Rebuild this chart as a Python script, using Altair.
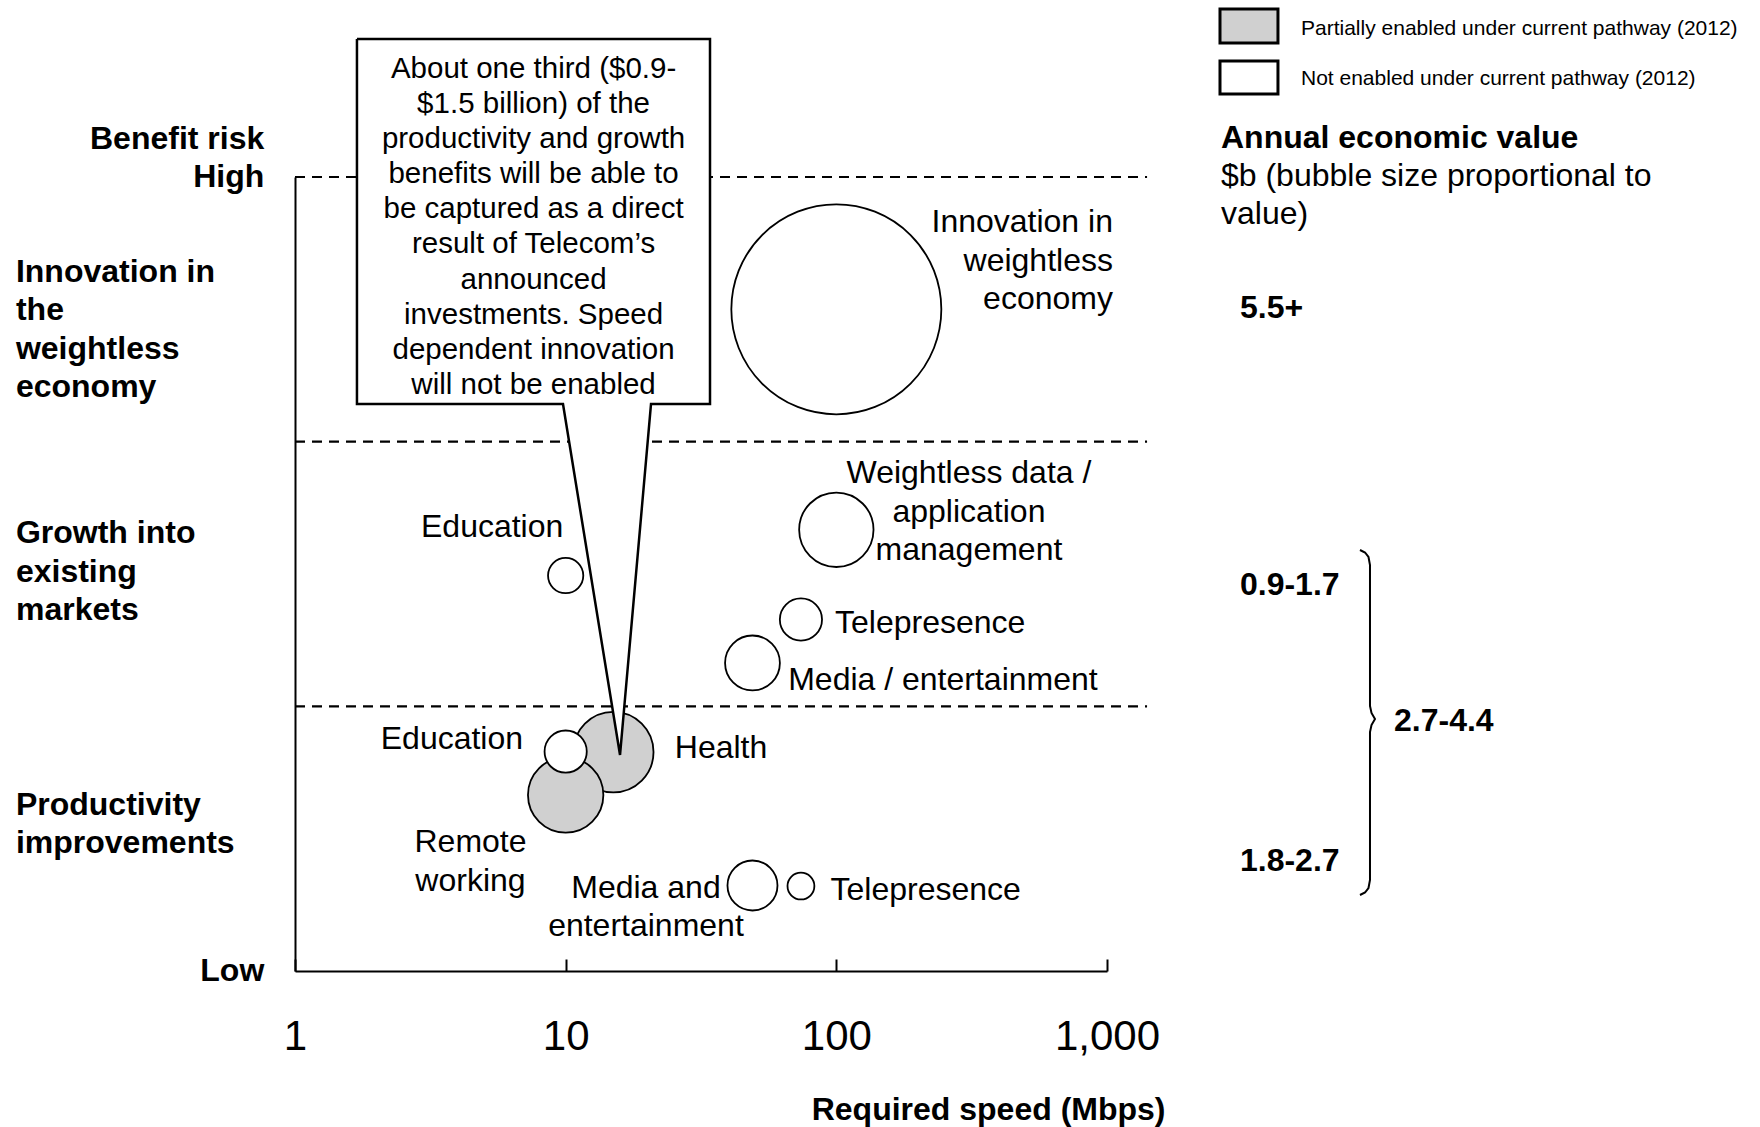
import altair as alt
import pandas as pd

FONT = "Liberation Sans"

# ---------------- data ----------------
status_partial = "Partially enabled under current pathway (2012)"
status_not = "Not enabled under current pathway (2012)"

bubble_name = ["Innovation in weightless economy", "Weightless data / application management",
               "Education (growth)", "Telepresence (growth)", "Media / entertainment",
               "Health", "Remote working", "Education (productivity)",
               "Media and entertainment", "Telepresence (productivity)"]
bubble_speed = [100, 100, 10, 74, 49, 15, 10, 10, 49, 74]          # Mbps
bubble_risk = [2.50, 1.667, 1.494, 1.328, 1.164, 0.827, 0.665, 0.829, 0.323, 0.321]
bubble_value = [5.5, 0.69, 0.155, 0.222, 0.375, 0.806, 0.709, 0.222, 0.312, 0.090]  # $b
bubble_status = [status_not, status_not, status_not, status_not, status_not,
                 status_partial, status_partial, status_not, status_not, status_not]

band_edges = [1, 2, 3]
tick_values = [1, 10, 100, 1000]

# bubble labels (anchor in data units: speed, risk)
lab_text = ["Telepresence", "Media / entertainment", "Health", "Telepresence",
            "Weightless data /\napplication\nmanagement", "Education", "Remote\nworking",
            "Media and\nentertainment",
            "Innovation in\nweightless\neconomy", "Education"]
lab_speed = [98.9, 66.4, 25.3, 95.2, 309, 5.35, 4.45, 19.8, 1052, 6.96]
lab_risk = [1.3707, 1.1546, 0.8996, 0.362, 1.9375, 1.7334, 0.544, 0.3706, 2.886, 0.9344]
lab_align = ["left", "left", "left", "left", "center", "center", "center", "center", "right", "right"]

callout_text = ["About one third ($0.9-\n$1.5 billion) of the\nproductivity and growth\n"
                "benefits will be able to\nbe captured as a direct\nresult of Telecom\u2019s\n"
                "announced\ninvestments. Speed\ndependent innovation\nwill not be enabled"]
callout_speed = [7.61]
callout_risk = [3.4617]

callout_box_speed = [1.694, 34.14]
callout_box_risk = [2.1423, 3.5213]
pointer_speed = [9.775, 15.88, 20.67]
pointer_risk = [2.1423, 0.8161, 2.1423]
outline_speed = [1.694, 34.14, 34.14, 20.67, 15.88, 9.775, 1.694, 1.694]
outline_risk = [3.5213, 3.5213, 2.1423, 2.1423, 0.8161, 2.1423, 2.1423, 3.5213]

cat_text = ["Innovation in\nthe\nweightless\neconomy", "Growth into\nexisting\nmarkets",
            "Productivity\nimprovements"]
cat_speed = [0.0931, 0.0931, 0.0931]
cat_risk = [2.6988, 1.7108, 0.6846]

risk_text = ["Benefit risk\nHigh", "Low"]
risk_speed = [0.77, 0.77]
risk_risk = [3.1994, 0.0567]

value_text = ["Annual economic value", "5.5+", "0.9-1.7", "1.8-2.7", "2.7-4.4"]
value_speed = [2637, 3099, 3099, 3099, 11490]
value_risk = [3.203, 2.563, 1.5158, 0.4723, 1.0024]

sub_text = ["$b (bubble size proportional to\nvalue)"]
sub_speed = [2637]
sub_risk = [3.0596]

legend_status = [status_partial, status_not]
legend_box_speed = [2615, 4282]
legend_box_risk_lo = [3.5062, 3.3135]
legend_box_risk_hi = [3.6346, 3.4382]
legend_text_speed = [5209, 5209]
legend_text_risk = [3.6012, 3.4121]

brace_speed = [8604, 8981, 9249, 9368, 9368, 9489, 9775, 9489, 9368, 9368, 9249, 8981, 8604]
brace_risk = [1.5907, 1.5812, 1.5642, 1.5340, 1.0013, 0.9748, 0.9521, 0.9295, 0.9030,
              0.3438, 0.3136, 0.2966, 0.2871]

band_line_end = 1406

# ---------------- scales ----------------
XS = alt.Scale(type="log", domain=[1, 1000], nice=False)
YS = alt.Scale(domain=[0, 3], nice=False, zero=False)
FILL = alt.Scale(domain=[status_partial, status_not], range=["#d0d0d0", "#ffffff"])

main_x_axis = alt.Axis(orient="bottom", values=tick_values, format=",", labelFont=FONT,
                       labelFontSize=42, labelColor="black", labelPadding=45, labelFlush=False,
                       labelOverlap=False, labelBound=False, ticks=False, tickSize=0,
                       domain=True, domainColor="black", domainWidth=2, grid=False,
                       title="Required speed (Mbps)", titleFont=FONT, titleFontSize=32,
                       titleFontWeight="bold", titleColor="black", titleAlign="right",
                       titleAnchor="end", titleX=870, titleY=138, titleBaseline="middle")
tick_x_axis = alt.Axis(orient="bottom", values=tick_values, offset=-12, domain=False,
                       labels=False, ticks=True, tickSize=12, tickWidth=2, tickColor="black",
                       grid=False, title=None)
y_axis = alt.Axis(orient="left", domain=True, domainColor="black", domainWidth=2,
                  ticks=False, labels=False, grid=False, title=None)


def X(field, axis=None):
    return alt.X(field, type="quantitative", scale=XS, axis=axis)


def Y(field, axis=None):
    return alt.Y(field, type="quantitative", scale=YS, axis=axis)


def text_layer(texts, xs, ys, align, size, weight="normal", line_height=38.5):
    df = pd.DataFrame({"text": texts, "x": xs, "y": ys})
    return alt.Chart(df).mark_text(
        align=align, baseline="top", font=FONT, fontSize=size, fontWeight=weight,
        color="black", lineBreak="\n", lineHeight=line_height, clip=False
    ).encode(x=X("x"), y=Y("y"), text="text:N")


# ---------------- layers ----------------
bands = alt.Chart(pd.DataFrame({"x": [1] * len(band_edges), "x2": [band_line_end] * len(band_edges),
                                "y": band_edges})).mark_rule(
    color="black", strokeWidth=2.2, strokeDash=[10, 7], clip=False
).encode(x=X("x", main_x_axis), x2="x2:Q", y=Y("y", y_axis))

bubbles = alt.Chart(pd.DataFrame({"name": bubble_name, "speed": bubble_speed, "risk": bubble_risk,
                                  "value": bubble_value, "status": bubble_status})).mark_circle(
    stroke="black", strokeWidth=1.8, opacity=1, clip=False
).encode(
    x=X("speed", tick_x_axis), y=Y("risk"),
    size=alt.Size("value:Q", scale=alt.Scale(domain=[0, 5.5], range=[0, 44100]), legend=None),
    fill=alt.Fill("status:N", scale=FILL, legend=None),
)

label_layers = []
for al in ["left", "center", "right"]:
    idx = [i for i, a in enumerate(lab_align) if a == al]
    label_layers.append(text_layer([lab_text[i] for i in idx], [lab_speed[i] for i in idx],
                                   [lab_risk[i] for i in idx], al, 32))

box = alt.Chart(pd.DataFrame({"x": [callout_box_speed[0]], "x2": [callout_box_speed[1]],
                              "y": [callout_box_risk[0]], "y2": [callout_box_risk[1]]})).mark_rect(
    fill="white", strokeWidth=0, clip=False
).encode(x=X("x"), x2="x2:Q", y=Y("y"), y2="y2:Q")

pointer = alt.Chart(pd.DataFrame({"x": pointer_speed, "y": pointer_risk,
                                  "y2": [callout_box_risk[0]] * 3})).mark_area(
    fill="white", opacity=1, clip=False
).encode(x=X("x"), y=Y("y"), y2="y2:Q")

outline = alt.Chart(pd.DataFrame({"x": outline_speed, "y": outline_risk,
                                  "i": list(range(len(outline_speed)))})).mark_line(
    color="black", strokeWidth=2.5, strokeJoin="miter", clip=False
).encode(x=X("x"), y=Y("y"), order="i:Q")

callout = text_layer(callout_text, callout_speed, callout_risk, "center", 29.5, line_height=35.14)

cats = text_layer(cat_text, cat_speed, cat_risk, "left", 32, "bold", 38.5)
risks = text_layer(risk_text, risk_speed, risk_risk, "right", 32, "bold", 38.2)
values = text_layer(value_text, value_speed, value_risk, "left", 32, "bold")
sub = text_layer(sub_text, sub_speed, sub_risk, "left", 32, "normal", 38)
leg_text = text_layer(legend_status, legend_text_speed, legend_text_risk, "left", 21)

leg_boxes = alt.Chart(pd.DataFrame({"status": legend_status,
                                    "x": [legend_box_speed[0]] * 2, "x2": [legend_box_speed[1]] * 2,
                                    "y": legend_box_risk_lo, "y2": legend_box_risk_hi})).mark_rect(
    stroke="black", strokeWidth=3, clip=False
).encode(x=X("x"), x2="x2:Q", y=Y("y"), y2="y2:Q",
         fill=alt.Fill("status:N", scale=FILL, legend=None))

brace = alt.Chart(pd.DataFrame({"x": brace_speed, "y": brace_risk,
                                "i": list(range(len(brace_speed)))})).mark_line(
    color="black", strokeWidth=2, clip=False
).encode(x=X("x"), y=Y("y"), order="i:Q")

chart = alt.layer(
    bands, bubbles, *label_layers, box, pointer, outline, callout,
    cats, risks, values, sub, leg_boxes, leg_text, brace
).resolve_axis(x="independent", y="independent").properties(
    width=812, height=794,
    padding={"left": 295, "top": 177, "right": 653, "bottom": 156},
    autosize=alt.AutoSizeParams(type="none"),
    background="white",
).configure_view(stroke=None)

chart.save("out.html", embed_options={"renderer": "svg", "actions": False})
